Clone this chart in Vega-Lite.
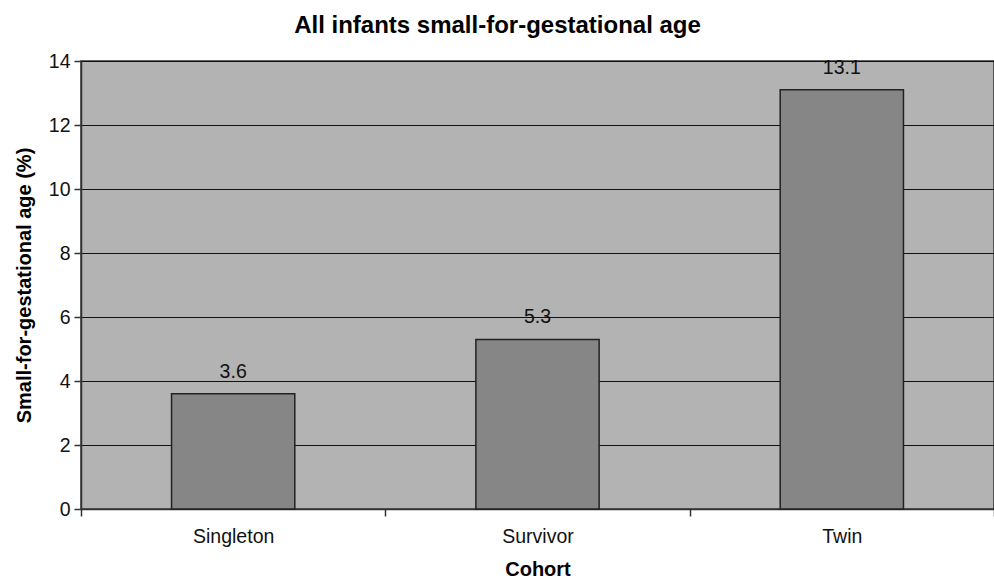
{
  "$schema": "https://vega.github.io/schema/vega-lite/v6.json",
  "autosize": "none",
  "width": 913,
  "height": 448,
  "padding": {"left": 81, "top": 61, "right": 0, "bottom": 74},
  "background": "white",
  "title": {
    "text": "All infants small-for-gestational age",
    "font": "Liberation Sans",
    "fontSize": 24,
    "fontWeight": "bold",
    "color": "#000",
    "anchor": "middle",
    "dx": -40,
    "offset": 13
  },
  "config": {
    "view": {"fill": "#b3b3b3", "stroke": "#333", "strokeWidth": 1.5},
    "axis": {
      "labelFont": "Liberation Sans",
      "titleFont": "Liberation Sans",
      "labelFontSize": 19.5,
      "titleFontSize": 20,
      "labelColor": "#111",
      "titleColor": "#000",
      "domainColor": "#333",
      "tickColor": "#333",
      "domainWidth": 1.5,
      "tickWidth": 1.5
    }
  },
  "data": {
    "values": [
      {"cohort": "Singleton", "pct": 3.6},
      {"cohort": "Survivor", "pct": 5.3},
      {"cohort": "Twin", "pct": 13.1}
    ]
  },
  "layer": [
    {
      "mark": {"type": "bar", "fill": "#868686", "stroke": "#222", "strokeWidth": 1.5, "width": {"band": 0.405}},
      "encoding": {
        "x": {
          "field": "cohort",
          "type": "nominal",
          "sort": null,
          "scale": {"paddingInner": 0, "paddingOuter": 0},
          "axis": {
            "title": "Cohort",
            "titleFontWeight": "bold",
            "titlePadding": 14,
            "labelAngle": 0,
            "labelPadding": 11,
            "ticks": true,
            "tickBand": "extent",
            "tickSize": 7,
            "grid": false
          }
        },
        "y": {
          "field": "pct",
          "type": "quantitative",
          "scale": {"domain": [0, 14], "nice": false},
          "axis": {
            "title": "Small-for-gestational age (%)",
            "titleFontWeight": "bold",
            "titlePadding": 14,
            "values": [0, 2, 4, 6, 8, 10, 12, 14],
            "tickSize": 7,
            "labelPadding": 4,
            "grid": true,
            "gridColor": "#111",
            "gridWidth": 1.2,
            "gridOpacity": 1
          }
        }
      }
    },
    {
      "mark": {"type": "text", "baseline": "alphabetic", "dy": -16, "font": "Liberation Sans", "fontSize": 19.5, "color": "#111"},
      "encoding": {
        "x": {"field": "cohort", "type": "nominal", "sort": null},
        "y": {"field": "pct", "type": "quantitative"},
        "text": {"field": "pct", "type": "quantitative", "format": ".1f"}
      }
    }
  ]
}
